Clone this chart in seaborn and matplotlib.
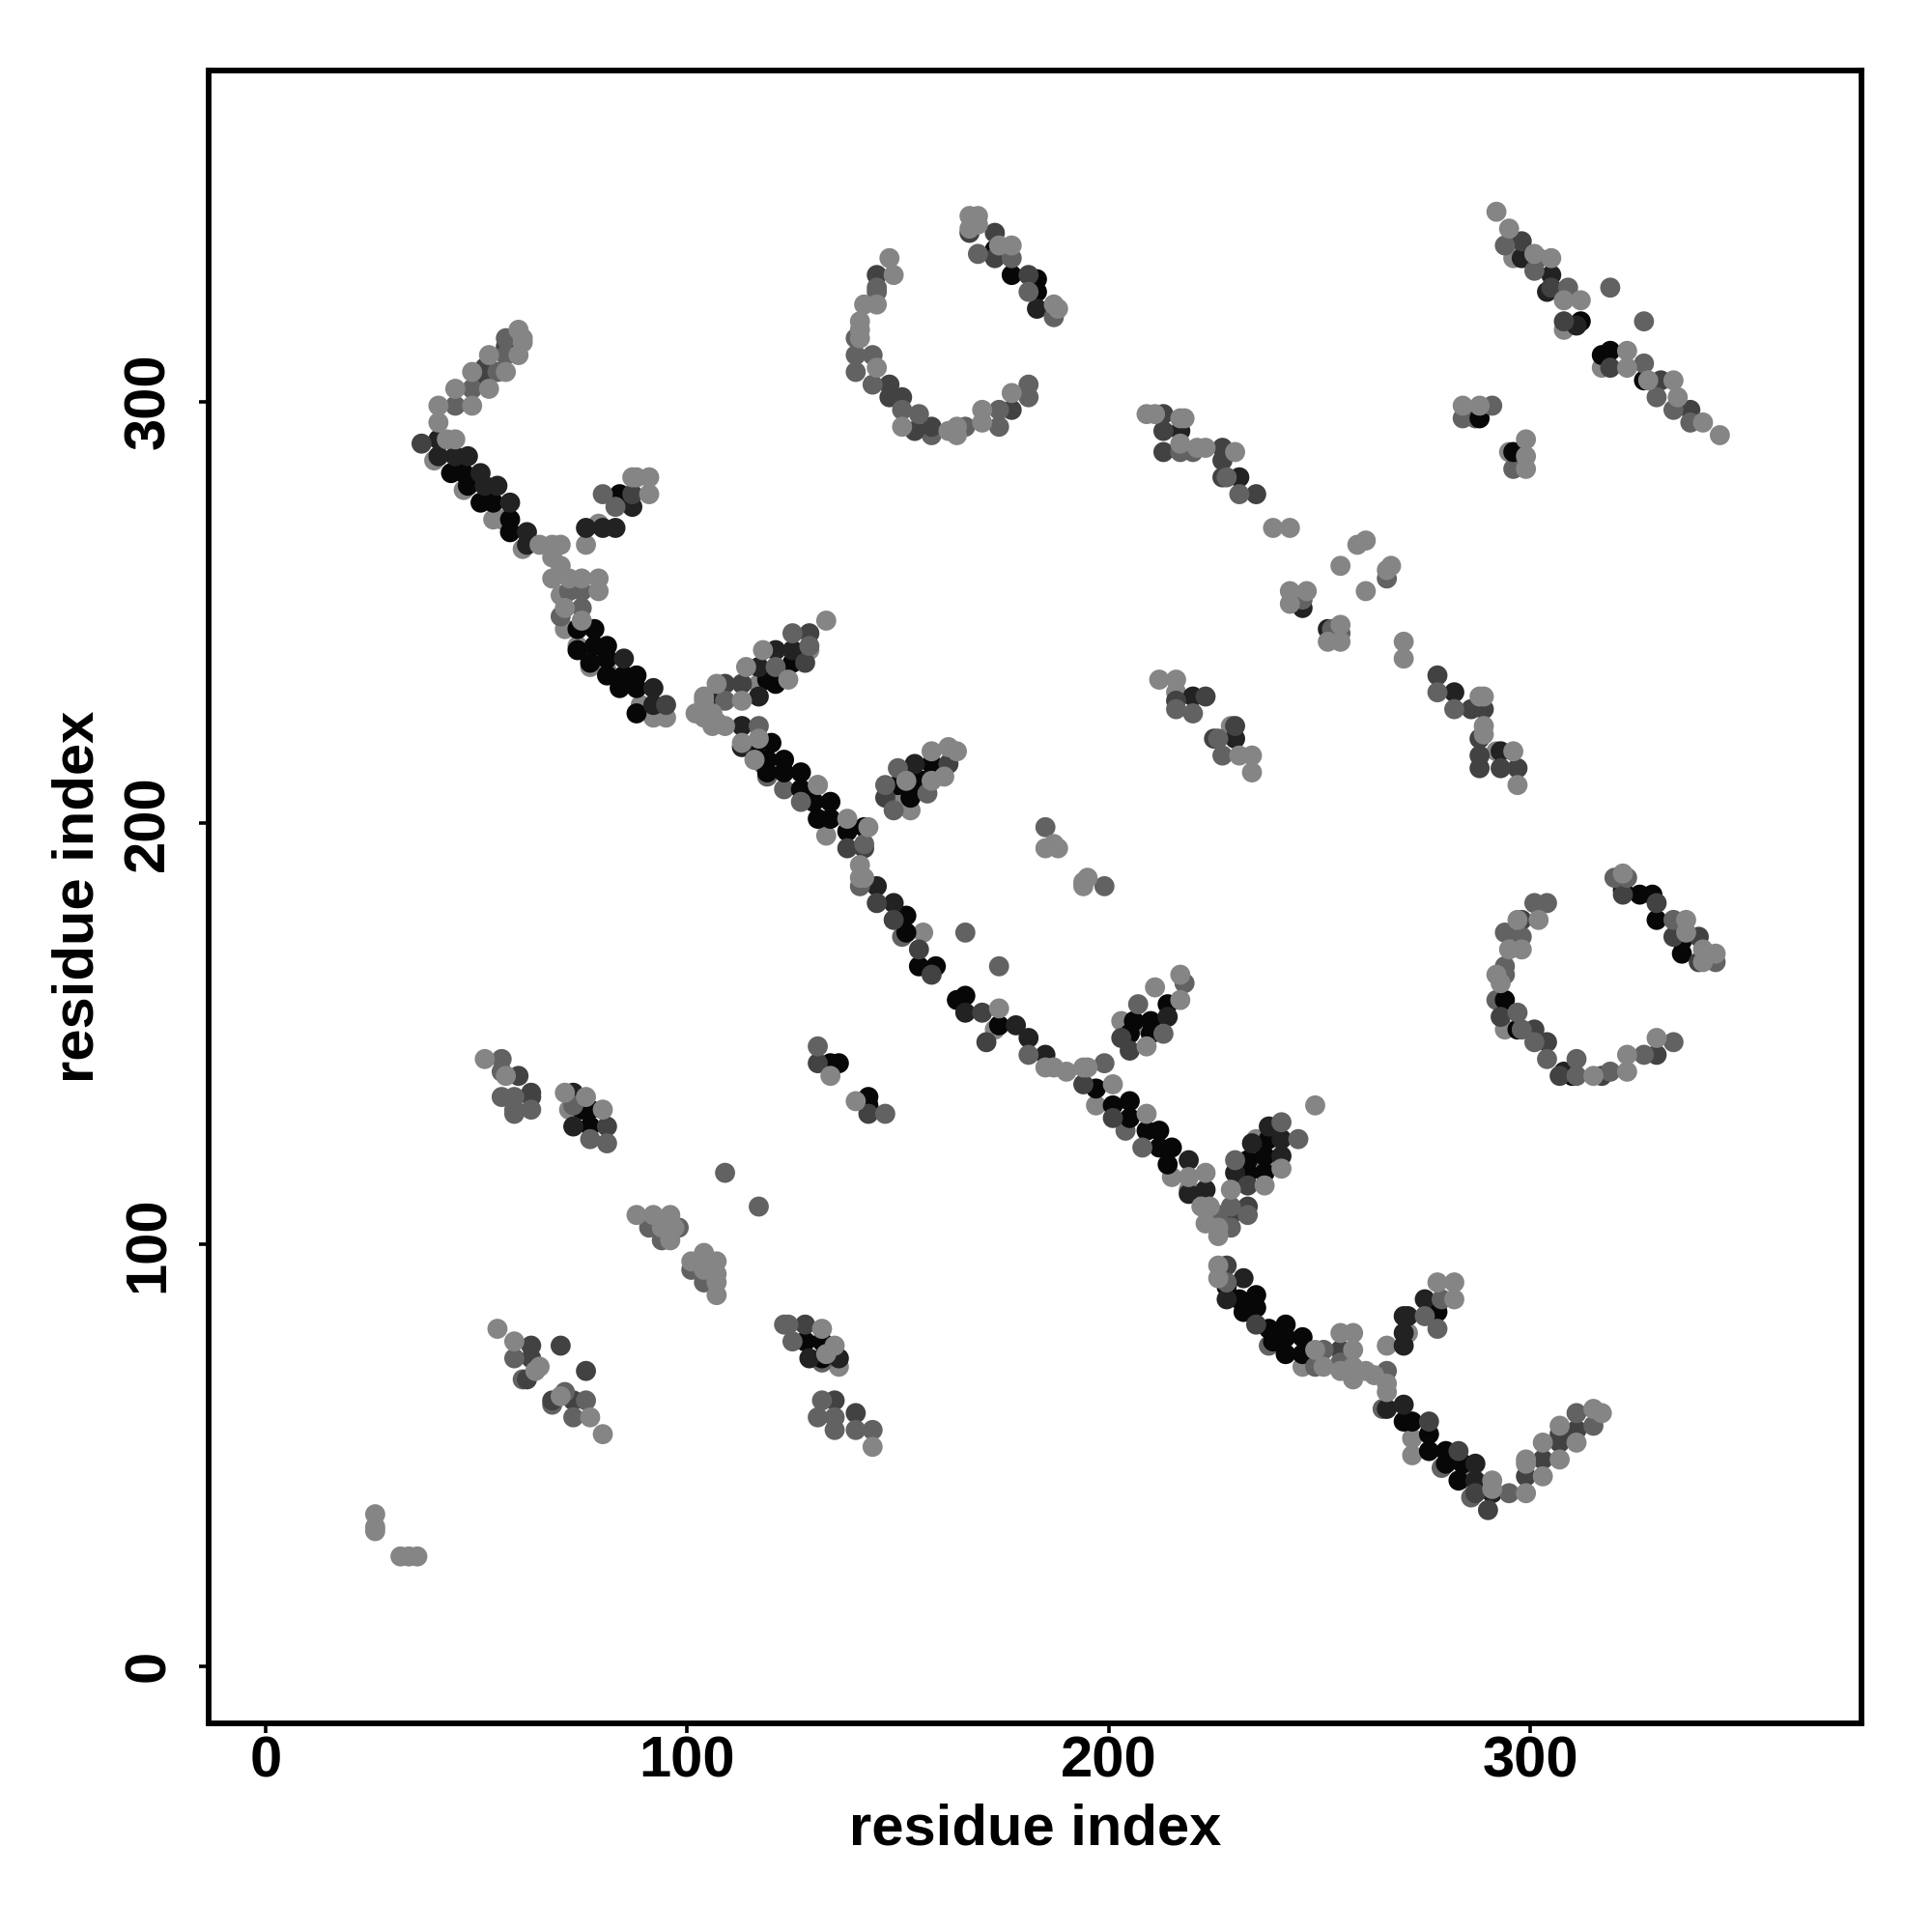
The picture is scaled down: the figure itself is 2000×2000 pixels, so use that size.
import pandas as pd
import seaborn as sns
import matplotlib.pyplot as plt

# contacts, (i, j) per shade, drawn in this order
light_under = [
    (40,286),(47,279),(54,272),(56,272),(58,269),(61,265),(70,254),(71,246),(74,242),(77,237),
    (81,236),(92,225),(95,225),(89,228),(129,241),(116,215),(131,209),(133,197),(156,174),(173,151),
    (190,141),(197,133),(215,116),(219,113),(234,118),(235,125),(237,120),(271,79),(266,76),(246,71),
    (272,54),(286,44),(76,266),(79,271),(117,233),(150,206),(153,203),(203,153),(208,152),(296,334),
    (308,317),(317,308),(295,288),(292,217),(216,231),(229,223),(272,50),(72,132),(136,71),(294,151),
]
mid_under = [
    (119,211),(151,173),(158,292),(204,127),(238,76),(279,47),(286,40),(265,61),(123,208),(118,214),
    (292,158),(140,307),(284,296),(287,296),(296,284),(132,72),(140,315),(59,131),(68,62),(61,68),
]
black = [
    (44,283),(47,283),(48,280),(51,276),(54,276),(58,272),(58,269),(84,278),(74,246),(78,246),
    (78,242),(81,242),(74,241),(77,238),(81,239),(85,235),(88,235),(84,232),(88,232),(81,235),
    (88,226),(125,238),(121,234),(119,234),(121,233),(158,214),(150,209),(154,210),(153,206),(156,210),
    (116,218),(120,219),(119,215),(123,215),(119,212),(123,212),(127,212),(127,208),(130,205),(134,205),
    (131,201),(134,201),(138,198),(142,199),(152,178),(152,174),(155,166),(159,166),(164,158),(166,159),
    (174,152),(197,137),(201,133),(205,134),(205,130),(209,127),(212,127),(212,123),(215,123),(214,119),
    (214,157),(210,153),(206,153),(210,150),(205,150),(233,117),(237,117),(233,120),(237,121),(238,125),
    (231,87),(235,88),(228,90),(232,84),(235,85),(238,80),(242,81),(239,77),(242,78),(246,78),
    (242,74),(246,74),(272,58),(270,58),(276,55),(276,51),(280,51),(280,48),(284,48),(283,44),
    (278,84),(173,336),(177,330),(183,326),(183,329),(312,319),(319,312),(317,311),(327,305),(288,296),
    (296,288),(134,143),(136,143),(143,135),(143,133),(75,132),(77,132),(77,128),(128,77),(132,77),
    (132,73),(326,183),(329,183),(330,177),(336,172),(297,151),(310,140),(336,169),(322,184),(294,158),
]
very_dark = [
    (41,291),(41,287),(45,287),(48,287),(51,283),(52,280),(55,280),(58,276),(62,269),(62,266),
    (87,275),(83,270),(80,270),(76,270),(85,239),(92,232),(92,228),(121,241),(125,241),(117,237),
    (117,230),(107,229),(154,214),(113,223),(113,218),(145,185),(149,181),(166,155),(178,152),(181,149),
    (185,145),(219,120),(219,112),(223,113),(230,117),(241,121),(234,124),(241,125),(238,128),(214,154),
    (228,87),(232,92),(266,61),(270,62),(287,48),(287,44),(291,41),(275,87),(271,83),(270,83),
    (270,79),(270,76),(217,293),(231,282),(230,220),(220,230),(282,231),(293,217),(246,251),(252,246),
    (73,136),(73,128),(129,73),(136,73),(183,322),(298,334),(305,330),(304,326),(311,318),(308,141),
]
dark = [
    (37,290),(57,313),(52,308),(52,306),(87,278),(95,228),(129,245),(128,238),(113,233),(109,233),
    (162,214),(147,206),(138,194),(142,194),(145,181),(149,177),(155,170),(158,164),(170,155),
    (171,148),(194,138),(201,130),(203,149),(205,146),(229,107),(233,109),(233,114),(228,95),(235,81),
    (255,75),(276,58),(283,51),(287,41),(290,37),(299,45),(303,49),(307,53),(307,55),(311,56),
    (173,340),(173,334),(181,330),(167,340),(145,330),(148,304),(148,301),(151,301),(154,293),(158,294),
    (177,298),(213,297),(213,293),(213,288),(227,289),(227,286),(227,282),(235,278),(278,235),(286,227),
    (289,227),(288,220),(288,216),(288,213),(293,213),(297,213),(216,229),(223,230),(230,223),(225,220),
    (298,338),(305,327),(308,319),(319,308),(331,305),(338,298),(60,140),(63,136),(63,135),(131,143),
    (143,131),(81,128),(63,76),(63,73),(70,76),(76,70),(62,68),(73,63),(68,63),(128,81),(135,63),
    (140,60),(322,183),(330,181),(334,173),(340,173),(340,167),(298,177),(301,151),(304,148),(307,140),
    (330,145),(317,140),(293,154),
]
mid = [
    (57,315),(57,311),(55,307),(49,303),(45,299),(75,255),(72,255),(80,278),(83,275),(75,251),
    (70,249),(125,245),(129,242),(121,237),(109,229),(150,213),(147,209),(149,203),(157,207),(185,199),
    (199,185),(166,174),(174,166),(117,223),(127,205),(142,195),(141,185),(181,145),(199,143),(208,123),
    (218,162),(207,157),(213,150),(226,107),(229,109),(229,104),(233,107),(230,120),(245,125),(241,129),
    (228,91),(251,75),(249,71),(255,72),(266,70),(295,41),(311,60),(315,57),(279,87),(275,83),(278,80),
    (187,320),(181,326),(177,334),(169,335),(145,327),(145,326),(140,311),(144,311),(144,304),(151,298),
    (155,297),(166,294),(174,298),(174,294),(181,304),(181,301),(217,288),(220,288),(228,282),(231,278),
    (266,258),(246,253),(253,246),(255,245),(278,231),(282,227),(220,226),(226,220),(227,216),(216,227),
    (291,299),(294,337),(302,334),(301,331),(309,327),(319,327),(327,319),
    (327,309),(330,301),(334,298),(338,295),(56,144),(56,141),(56,135),(59,135),(59,132),(63,132),
    (73,133),(77,125),(81,124),(131,147),(147,131),(109,117),(117,109),(91,104),(98,104),
    (94,101),(101,94),(104,91),(59,73),(71,65),(76,63),(73,59),(124,81),(123,81),(125,77),
    (132,63),(131,59),(135,59),(135,56),(140,56),(144,56),(320,187),(323,187),(334,177),(344,167),
    (301,181),(304,181),(294,174),(298,173),(294,166),(294,164),(297,155),(298,151),(301,148),
    (304,144),(311,144),(311,140),(319,141),(327,145),(334,148),
]
light = [
    (60,317),(61,315),(61,314),(60,311),(53,311),(57,307),(53,303),(49,307),(45,303),(49,299),
    (41,299),(41,295),(43,291),(45,291),(87,282),(88,282),(91,282),(91,278),(65,266),
    (68,266),(70,266),(68,263),(70,261),(68,258),(72,258),(75,258),(79,258),(79,255),(71,251),
    (75,248),(118,241),(133,248),(114,237),(124,234),(113,229),(107,233),(104,230),
    (104,229),(102,226),(106,226),(104,225),(107,224),(109,223),(106,223),(164,217),(162,218),(158,217),
    (161,211),(158,210),(152,210),(185,194),(188,194),(187,195),(194,186),(195,187),(194,185),
    (113,219),(117,220),(116,215),(131,209),(138,201),(143,199),(141,190),(141,187),(142,187),(174,156),
    (185,142),(187,142),(194,142),(195,142),(201,138),(209,131),(217,164),(211,161),(217,158),
    (209,147),(219,116),(223,117),(222,109),(224,109),(223,105),(226,104),(226,102),(229,113),
    (237,114),(241,118),(249,133),(226,95),(226,92),(249,75),(255,79),(258,79),(258,75),
    (251,71),(255,70),(258,71),(258,68),(261,70),(263,69),(266,67),(266,65),(291,44),(291,42),
    (299,41),(303,45),(299,49),(299,48),(303,53),(307,49),(307,57),(311,53),(315,61),(317,60),
    (278,91),(282,91),(282,87),(188,322),(187,323),(177,337),(174,337),(169,342),(169,344),(167,344),
    (167,341),(148,334),(149,330),(145,323),(142,323),(141,319),(141,317),(141,315),(145,308),(151,294),
    (162,293),(164,294),(164,292),(170,298),(170,295),(177,302),(209,297),(211,297),(217,296),(218,296),
    (217,290),(221,289),(223,289),(230,288),(239,270),(243,270),(261,267),(259,266),(255,261),(267,261),
    (266,260),(261,255),(243,255),(247,255),(243,252),(255,247),(252,243),(255,243),(270,243),(270,239),
    (289,230),(288,230),(289,223),(289,221),(296,217),(297,209),(212,234),(216,234),(231,216),
    (234,216),(234,212),(284,299),(288,299),(299,291),(299,287),(299,284),(292,345),(295,341),(301,335),
    (305,334),(308,324),(312,324),(323,312),(323,308),(328,305),(334,305),(335,301),(341,295),(345,292),
    (52,144),(57,140),(71,136),(76,135),(80,132),(134,140),(140,134),(88,107),(92,107),(96,107),
    (94,104),(97,104),(96,101),(104,98),(101,96),(107,96),(104,94),(107,93),(107,91),(107,88),
    (55,80),(59,77),(65,71),(64,70),(70,64),(77,59),(80,55),(133,74),(132,80),(135,76),
    (144,52),(26,36),(26,33),(26,32),(32,26),(34,26),(36,26),(322,188),(337,177),(337,174),(341,170),
    (341,167),(344,169),(302,177),(297,177),(295,170),(298,170),(292,164),(293,162),(315,140),
    (323,145),(323,141),(330,149),
]

tick_values = [0, 100, 200, 300]
shade_colors = {'light': '#858585', 'mid': '#626262', 'dark': '#424242',
                'very_dark': '#222222', 'black': '#070707'}

# build the table in draw order
groups = [(light_under, 'light'), (mid_under, 'mid'), (black, 'black'),
          (very_dark, 'very_dark'), (dark, 'dark'), (mid, 'mid'), (light, 'light')]
frames = []
for points, shade in groups:
    part = pd.DataFrame(points, columns=['i', 'j'])
    part['shade'] = shade
    frames.append(part)
df = pd.concat(frames, ignore_index=True)

sns.set_style('white')
plt.rcParams['font.family'] = ['Liberation Sans', 'DejaVu Sans']
plt.rcParams['font.weight'] = 'bold'
plt.rcParams['text.color'] = 'black'
plt.rcParams['axes.labelcolor'] = 'black'
plt.rcParams['xtick.color'] = 'black'
plt.rcParams['ytick.color'] = 'black'

fig = plt.figure(figsize=(10, 10), dpi=200)
ax = fig.add_axes([0.1078, 0.108, 0.8557, 0.8557])
sns.scatterplot(data=df, x='i', y='j', hue='shade', palette=shade_colors,
                s=56, linewidth=0, legend=False, ax=ax)

ax.set_xlim(-13.6, 378.6)
ax.set_ylim(-13.6, 378.6)
ax.set_xticks(tick_values)
ax.set_yticks(tick_values)
ax.tick_params(axis='x', length=3.6, width=1.3, labelsize=21.5, pad=1, bottom=True)
ax.tick_params(axis='y', length=3.6, width=1.3, labelsize=21.5, pad=8.6, left=True)
plt.setp(ax.get_yticklabels(), rotation=90, va='center')
for spine in ax.spines.values():
    spine.set_linewidth(2.1)
    spine.set_color('black')
ax.set_xlabel('residue index', fontsize=21.5, fontweight='bold', labelpad=5.3)
ax.set_ylabel('residue index', fontsize=21.5, fontweight='bold', labelpad=6.6)

plt.savefig('out.png', dpi=200)
